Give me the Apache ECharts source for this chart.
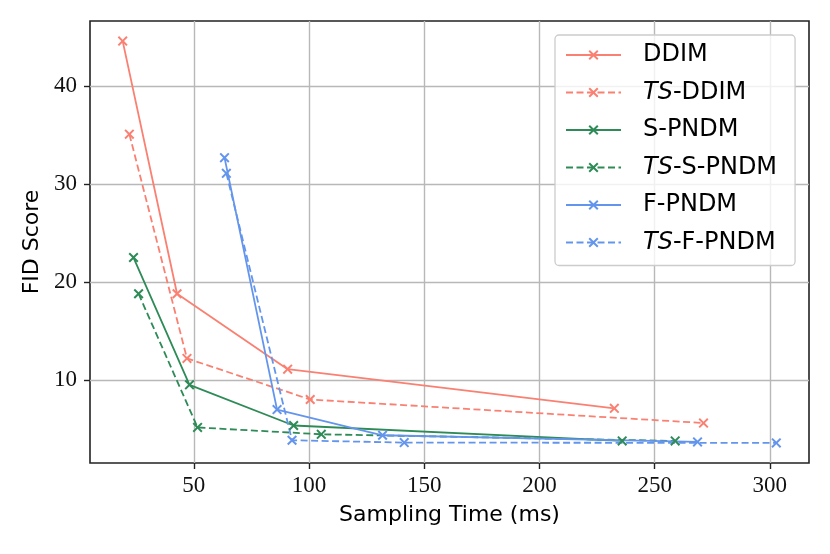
<!DOCTYPE html>
<html>
<head>
<meta charset="utf-8">
<script src="https://cdn.jsdelivr.net/npm/echarts@6.0.0/dist/echarts.min.js"></script>
<style>
  html, body { margin: 0; padding: 0; background: #fff; }
  #chart { width: 830px; height: 554px; }
</style>
</head>
<body>
<div id="chart"></div>
<script>
// sampling time (ms) and FID per method
var ddimX = [19.1, 42.7, 90.7, 232.5];
var ddimY = [44.6, 18.8, 11.1, 7.1];
var tsDdimX = [22.0, 47.0, 100.5, 271.2];
var tsDdimY = [35.1, 12.2, 8.0, 5.6];
var spndmX = [23.8, 48.1, 93.3, 235.9];
var spndmY = [22.5, 9.5, 5.35, 3.77];
var tsSpndmX = [26.0, 51.6, 105.3, 258.9];
var tsSpndmY = [18.8, 5.15, 4.45, 3.77];
var fpndmX = [63.3, 86.1, 131.9, 268.6];
var fpndmY = [32.7, 6.97, 4.35, 3.67];
var tsFpndmX = [64.1, 92.6, 141.3, 302.8];
var tsFpndmY = [31.1, 3.84, 3.6, 3.57];

var xTicks = [50, 100, 150, 200, 250, 300];
var yTicks = [10, 20, 30, 40];

var names = ['DDIM', 'TS-DDIM', 'S-PNDM', 'TS-S-PNDM', 'F-PNDM', 'TS-F-PNDM'];

var salmon = '#FA8072';
var green = '#2E8B57';
var blue = '#6495ED';

// filled "x" marker
var crossPath = 'path://M0,1.4L1.4,0L5,3.6L8.6,0L10,1.4L6.4,5L10,8.6L8.6,10L5,6.4L1.4,10L0,8.6L3.6,5Z';

// matplotlib-like 5% margins
var allX = ddimX.concat(tsDdimX, spndmX, tsSpndmX, fpndmX, tsFpndmX);
var allY = ddimY.concat(tsDdimY, spndmY, tsSpndmY, fpndmY, tsFpndmY);
var x0 = Math.min.apply(null, allX), x1 = Math.max.apply(null, allX);
var y0 = Math.min.apply(null, allY), y1 = Math.max.apply(null, allY);
var xPad = (x1 - x0) * 0.05, yPad = (y1 - y0) * 0.05;

function pairs(xs, ys) {
  return xs.map(function (v, i) { return [v, ys[i]]; });
}

function makeSeries(name, xs, ys, color, dashed) {
  return {
    name: name,
    type: 'line',
    data: pairs(xs, ys),
    symbol: crossPath,
    symbolSize: 10,
    showSymbol: true,
    color: color,
    itemStyle: { color: color, borderWidth: 0 },
    lineStyle: { color: color, width: 1.8, type: dashed ? [7, 3.5] : 'solid' },
    emphasis: { disabled: true }
  };
}

var chart = echarts.init(document.getElementById('chart'), null, { renderer: 'canvas' });

var axisColor = '#222';

chart.setOption({
  animation: false,
  backgroundColor: '#fff',
  grid: {
    left: 90, right: 21, top: 21, bottom: 91,
    show: true,
    borderColor: axisColor,
    borderWidth: 1.6,
    containLabel: false
  },
  legend: {
    data: names,
    orient: 'vertical',
    left: 555,
    top: 35,
    itemWidth: 55,
    itemHeight: 12.5,
    itemGap: 9.5,
    padding: [6, 18, 9, 10],
    backgroundColor: 'rgba(255,255,255,0.8)',
    borderColor: '#cccccc',
    borderWidth: 1.3,
    borderRadius: 4,
    formatter: function (name) {
      if (name.indexOf('TS-') === 0) return '{i|TS}-' + name.slice(3);
      return name;
    },
    textStyle: {
      fontFamily: 'DejaVu Sans',
      fontSize: 24,
      lineHeight: 28,
      color: '#000',
      padding: [0, 0, 0, 17],
      rich: {
        i: { fontFamily: 'DejaVu Sans', fontStyle: 'italic', fontSize: 24, lineHeight: 28, color: '#000' }
      }
    }
  },
  xAxis: {
    type: 'value',
    min: x0 - xPad,
    max: x1 + xPad,
    name: 'Sampling Time (ms)',
    nameLocation: 'middle',
    nameGap: 41,
    nameTextStyle: { fontFamily: 'DejaVu Sans', fontSize: 22, color: '#000' },
    axisLine: { show: false },
    axisTick: { show: true, length: 6, customValues: xTicks, lineStyle: { color: axisColor, width: 1.4 } },
    axisLabel: { customValues: xTicks, margin: 11, fontFamily: 'Liberation Serif', fontSize: 23, color: '#111' },
    splitLine: { show: true, lineStyle: { color: '#b8b8b8', width: 1.4 } }
  },
  yAxis: {
    type: 'value',
    min: y0 - yPad,
    max: y1 + yPad,
    name: 'FID Score',
    nameLocation: 'middle',
    nameGap: 45,
    nameTextStyle: { fontFamily: 'DejaVu Sans', fontSize: 22, color: '#000' },
    axisLine: { show: false },
    axisTick: { show: true, length: 6, customValues: yTicks, lineStyle: { color: axisColor, width: 1.4 } },
    axisLabel: { customValues: yTicks, margin: 13, fontFamily: 'Liberation Serif', fontSize: 23, color: '#111' },
    splitLine: { show: true, lineStyle: { color: '#b8b8b8', width: 1.4 } }
  },
  series: [
    makeSeries('DDIM', ddimX, ddimY, salmon, false),
    makeSeries('TS-DDIM', tsDdimX, tsDdimY, salmon, true),
    makeSeries('S-PNDM', spndmX, spndmY, green, false),
    makeSeries('TS-S-PNDM', tsSpndmX, tsSpndmY, green, true),
    makeSeries('F-PNDM', fpndmX, fpndmY, blue, false),
    makeSeries('TS-F-PNDM', tsFpndmX, tsFpndmY, blue, true)
  ]
});
</script>
</body>
</html>
